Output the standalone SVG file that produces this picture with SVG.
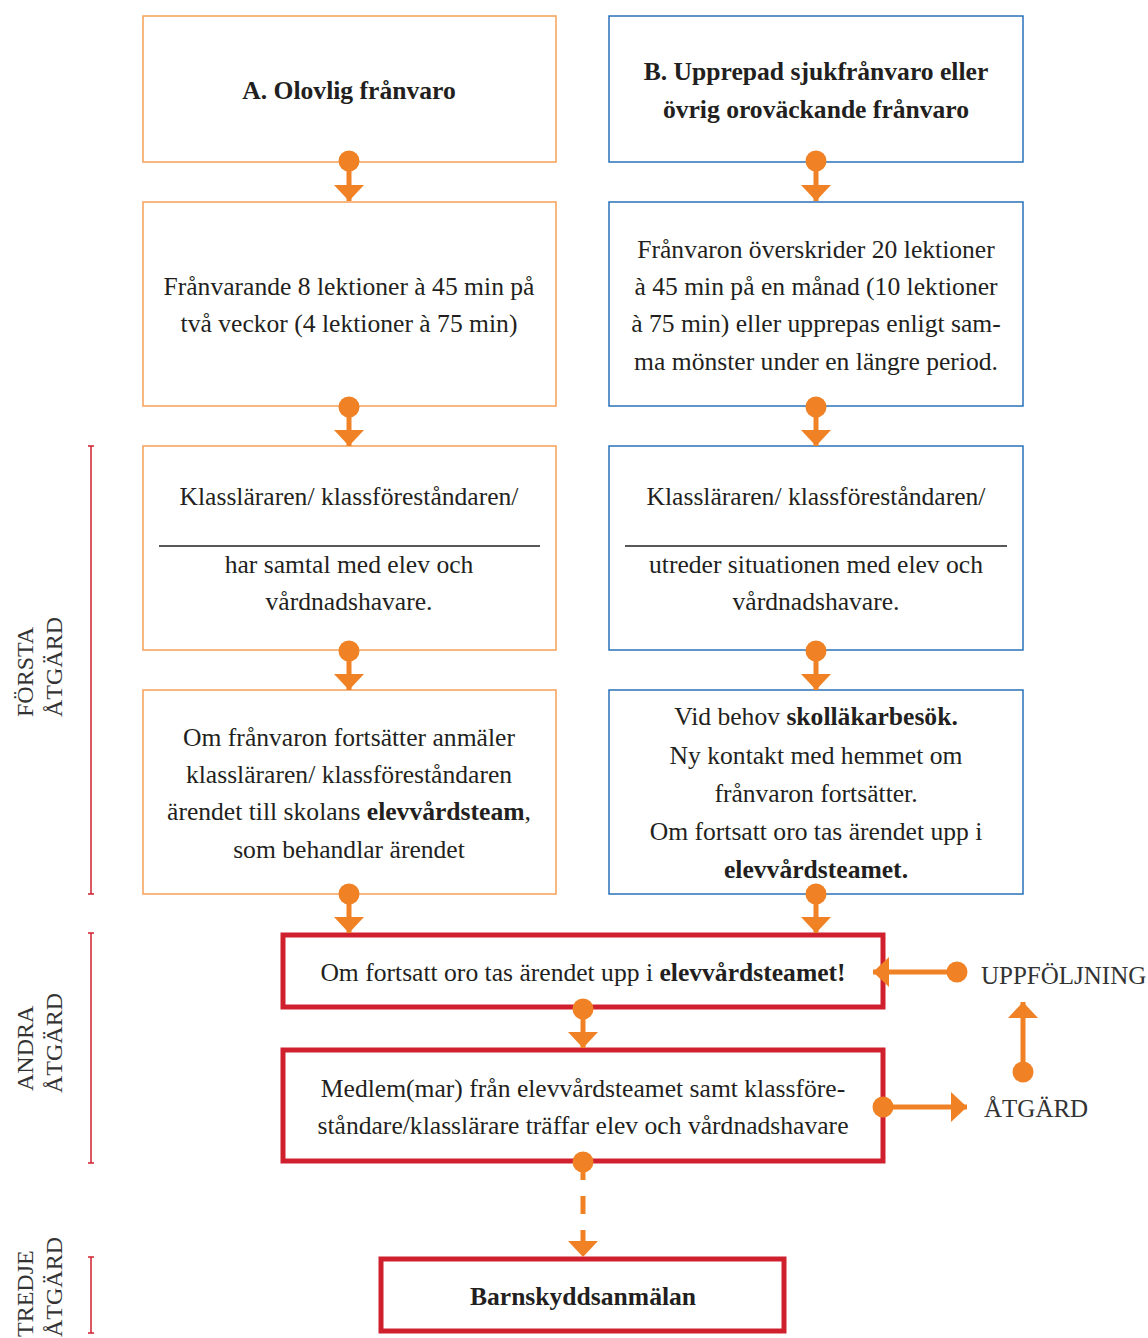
<svg xmlns="http://www.w3.org/2000/svg" width="1148" height="1338" viewBox="0 0 1148 1338">
<style>
text{font-family:"Liberation Serif","Times New Roman",serif;fill:#231f20;font-size:25.6px}
.c{text-anchor:middle}
.b{font-weight:bold}
.side{font-size:24px;fill:#333}
.lbl{font-size:25px;fill:#333}
.ob{fill:#fff;stroke:#f5a057;stroke-width:1.5}
.bb{fill:#fff;stroke:#2a72b8;stroke-width:1.5}
.rb{fill:#fff;stroke:#d0202e;stroke-width:5}
.rule{stroke:#231f20;stroke-width:1.3}
.con{stroke:#f08125;stroke-width:5;fill:none;marker-start:url(#dot);marker-end:url(#head)}
.dash{stroke-dasharray:18 16}
.brk{stroke:#d0202e;stroke-width:1.5;fill:none}
</style>
<defs>
<marker id="head" viewBox="0 0 16 30" refX="16" refY="15" markerWidth="16" markerHeight="30" orient="auto" markerUnits="userSpaceOnUse"><path d="M0,0 L16,15 L0,30 Z" fill="#f08125"/></marker>
<marker id="dot" viewBox="0 0 22 22" refX="11" refY="11" markerWidth="22" markerHeight="22" orient="auto" markerUnits="userSpaceOnUse"><circle cx="11" cy="11" r="10.5" fill="#f08125"/></marker>
</defs>
<rect width="1148" height="1338" fill="#fff"/>

<g id="side-labels">
<g id="forsta">
<path class="brk" d="M91,446 V894 M88,446 H94 M88,894 H94"/>
<text class="side" transform="translate(33,717) rotate(-90)">FÖRSTA</text>
<text class="side" transform="translate(62,717) rotate(-90)">ÅTGÄRD</text>
</g>
<g id="andra">
<path class="brk" d="M91,933 V1163 M88,933 H94 M88,1163 H94"/>
<text class="side" transform="translate(33,1091) rotate(-90)">ANDRA</text>
<text class="side" transform="translate(62,1093) rotate(-90)">ÅTGÄRD</text>
</g>
<g id="tredje">
<path class="brk" d="M91,1257 V1333 M88,1257 H94 M88,1333 H94"/>
<text class="side" transform="translate(33,1337) rotate(-90)">TREDJE</text>
<text class="side" transform="translate(62,1337) rotate(-90)">ÅTGÄRD</text>
</g>
</g>

<g id="nodeA">
<rect class="ob" x="143" y="16" width="413" height="146"/>
<text class="c b" x="349" y="99">A. Olovlig frånvaro</text>
</g>
<g id="nodeB">
<rect class="bb" x="609" y="16" width="414" height="146"/>
<text class="c b" x="816" y="80">B. Upprepad sjukfrånvaro eller</text>
<text class="c b" x="816" y="118">övrig oroväckande frånvaro</text>
</g>

<g id="nodeA2">
<rect class="ob" x="143" y="202" width="413" height="204"/>
<text class="c" x="349" y="295">Frånvarande 8 lektioner à 45 min på</text>
<text class="c" x="349" y="332">två veckor (4 lektioner à 75 min)</text>
</g>
<g id="nodeB2">
<rect class="bb" x="609" y="202" width="414" height="204"/>
<text class="c" x="816" y="258">Frånvaron överskrider 20 lektioner</text>
<text class="c" x="816" y="295">à 45 min på en månad (10 lektioner</text>
<text class="c" x="816" y="332">à 75 min) eller upprepas enligt sam-</text>
<text class="c" x="816" y="370">ma mönster under en längre period.</text>
</g>

<g id="nodeA3">
<rect class="ob" x="143" y="446" width="413" height="204"/>
<text class="c" x="349" y="505">Klassläraren/ klassföreståndaren/</text>
<line class="rule" x1="159" y1="546" x2="540" y2="546"/>
<text class="c" x="349" y="573">har samtal med elev och</text>
<text class="c" x="349" y="610">vårdnadshavare.</text>
</g>
<g id="nodeB3">
<rect class="bb" x="609" y="446" width="414" height="204"/>
<text class="c" x="816" y="505">Klassläraren/ klassföreståndaren/</text>
<line class="rule" x1="625" y1="546" x2="1007" y2="546"/>
<text class="c" x="816" y="573">utreder situationen med elev och</text>
<text class="c" x="816" y="610">vårdnadshavare.</text>
</g>

<g id="nodeA4">
<rect class="ob" x="143" y="690" width="413" height="204"/>
<text class="c" x="349" y="746">Om frånvaron fortsätter anmäler</text>
<text class="c" x="349" y="783">klassläraren/ klassföreståndaren</text>
<text class="c" x="349" y="820">ärendet till skolans <tspan class="b">elevvårdsteam</tspan>,</text>
<text class="c" x="349" y="858">som behandlar ärendet</text>
</g>
<g id="nodeB4">
<rect class="bb" x="609" y="690" width="414" height="204"/>
<text class="c" x="816" y="725">Vid behov <tspan class="b">skolläkarbesök.</tspan></text>
<text class="c" x="816" y="764">Ny kontakt med hemmet om</text>
<text class="c" x="816" y="802">frånvaron fortsätter.</text>
<text class="c" x="816" y="840">Om fortsatt oro tas ärendet upp i</text>
<text class="c b" x="816" y="878">elevvårdsteamet.</text>
</g>

<g id="nodeR1">
<rect class="rb" x="283" y="935" width="600" height="72"/>
<text class="c" x="583" y="981">Om fortsatt oro tas ärendet upp i <tspan class="b">elevvårdsteamet!</tspan></text>
</g>
<g id="nodeR2">
<rect class="rb" x="283" y="1050" width="600" height="111"/>
<text class="c" x="583" y="1097">Medlem(mar) från elevvårdsteamet samt klassföre-</text>
<text class="c" x="583" y="1134">ståndare/klasslärare träffar elev och vårdnadshavare</text>
</g>
<g id="nodeR3">
<rect class="rb" x="381" y="1259" width="403" height="72"/>
<text class="c b" x="583" y="1305">Barnskyddsanmälan</text>
</g>

<g id="labelUpp">
<text class="lbl" x="981" y="984">UPPFÖLJNING</text>
</g>
<g id="labelAtg">
<text class="lbl" x="984" y="1117">ÅTGÄRD</text>
</g>

<g id="connectors">
<path class="con" d="M349,161 V201"/>
<path class="con" d="M816,161 V201"/>
<path class="con" d="M349,407 V446"/>
<path class="con" d="M816,407 V446"/>
<path class="con" d="M349,651 V690"/>
<path class="con" d="M816,651 V690"/>
<path class="con" d="M349,894 V933"/>
<path class="con" d="M816,894 V933"/>
<path class="con" d="M583,1009 V1048"/>
<path class="con dash" d="M583,1162 V1257"/>
<path class="con" d="M957,972 H873"/>
<path class="con" d="M1023,1072 V1002"/>
<path class="con" d="M883,1107 H967"/>
</g>
</svg>
